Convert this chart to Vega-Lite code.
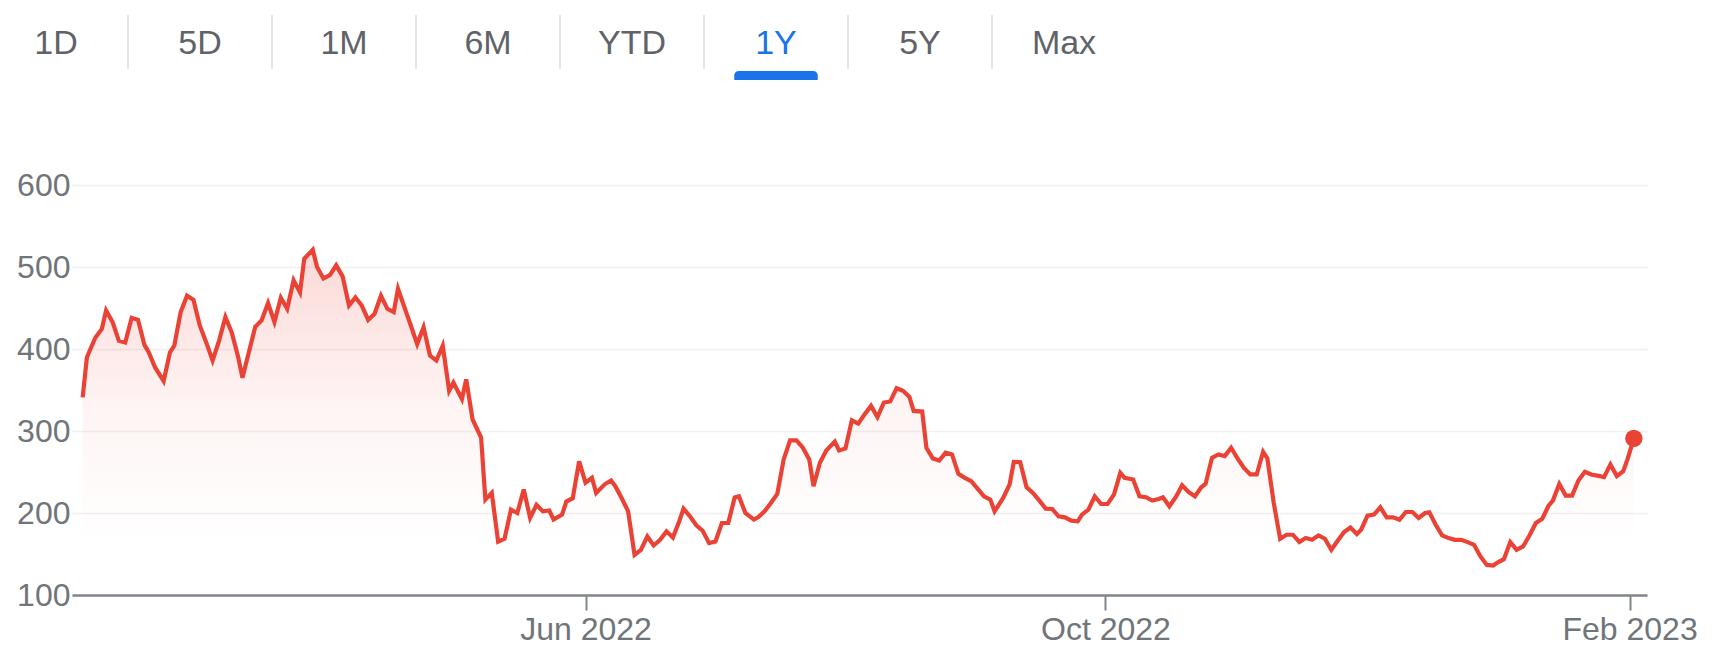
{
"$schema": "https://vega.github.io/schema/vega-lite/v6.json",
"padding": {"left": 16, "top": 0, "right": 0, "bottom": 0},
"spacing": 89,
"config": {"view": {"stroke": null}, "font": "Liberation Sans"},
"vconcat": [
{
"width": 1160, "height": 80,
"data": {"values": [{"label":"1D"},{"label":"5D"},{"label":"1M"},{"label":"6M"},{"label":"YTD"},{"label":"1Y"},{"label":"5Y"},{"label":"Max"}]},
"encoding": {"x": {"field": "label", "type": "nominal", "sort": null, "scale": {"type": "band", "domain": ["1D","5D","1M","6M","YTD","1Y","5Y","Max"], "range": [-88, 1064], "paddingInner": 0, "paddingOuter": 0}, "axis": null}},
"layer": [
{"transform": [{"filter": "datum.label !== '1D'"}], "mark": {"type": "rule", "color": "#dadce0", "strokeWidth": 1.5}, "encoding": {"x": {"field": "label", "type": "nominal", "bandPosition": 0}, "y": {"value": 15}, "y2": {"value": 69}}},
{"mark": {"type": "text", "fontSize": 34, "baseline": "middle", "align": "center", "font": "Liberation Sans"}, "encoding": {"text": {"field": "label"}, "y": {"value": 44}, "color": {"condition": {"test": "datum.label === '1Y'", "value": "#1a73e8"}, "value": "#5f6368"}}},
{"transform": [{"filter": "datum.label === '1Y'"}], "mark": {"type": "bar", "color": "#1a73e8", "width": {"band": 0.58}, "cornerRadiusTopLeft": 5, "cornerRadiusTopRight": 5}, "encoding": {"y": {"value": 71}, "y2": {"value": 80}}}
]
},
{
"width": 1575, "height": 410,
"data": {"values": [
{"date":"2022-02-03T00:00","price":341},{"date":"2022-02-04T00:00","price":390},{"date":"2022-02-06T00:00","price":414},{"date":"2022-02-07T12:00","price":424.5},{"date":"2022-02-08T12:00","price":447},{"date":"2022-02-10T00:00","price":433},{"date":"2022-02-11T12:00","price":410},{"date":"2022-02-13T00:00","price":408},{"date":"2022-02-14T12:00","price":438},{"date":"2022-02-16T00:00","price":435.5},{"date":"2022-02-17T12:00","price":405},{"date":"2022-02-18T12:00","price":396},{"date":"2022-02-20T00:00","price":377.5},{"date":"2022-02-22T00:00","price":361},{"date":"2022-02-23T12:00","price":396},{"date":"2022-02-24T12:00","price":404},{"date":"2022-02-26T00:00","price":445},{"date":"2022-02-27T12:00","price":465},{"date":"2022-03-01T00:00","price":460},{"date":"2022-03-02T12:00","price":428.5},{"date":"2022-03-04T00:00","price":408},{"date":"2022-03-05T12:00","price":386},{"date":"2022-03-07T00:00","price":410},{"date":"2022-03-08T12:00","price":439},{"date":"2022-03-10T00:00","price":420},{"date":"2022-03-11T12:00","price":390},{"date":"2022-03-12T12:00","price":365},{"date":"2022-03-14T00:00","price":396},{"date":"2022-03-15T12:00","price":427},{"date":"2022-03-17T00:00","price":435},{"date":"2022-03-18T12:00","price":456},{"date":"2022-03-20T00:00","price":433},{"date":"2022-03-21T12:00","price":462.5},{"date":"2022-03-23T00:00","price":449},{"date":"2022-03-24T12:00","price":483.7},{"date":"2022-03-26T00:00","price":469},{"date":"2022-03-27T00:00","price":510},{"date":"2022-03-29T00:00","price":521},{"date":"2022-03-30T00:00","price":500},{"date":"2022-03-31T12:00","price":486},{"date":"2022-04-02T00:00","price":490},{"date":"2022-04-03T12:00","price":502},{"date":"2022-04-05T00:00","price":488.6},{"date":"2022-04-06T12:00","price":453},{"date":"2022-04-08T00:00","price":463},{"date":"2022-04-09T12:00","price":453},{"date":"2022-04-11T00:00","price":435.5},{"date":"2022-04-12T12:00","price":443},{"date":"2022-04-14T00:00","price":465},{"date":"2022-04-15T12:00","price":449},{"date":"2022-04-17T00:00","price":445},{"date":"2022-04-18T00:00","price":473.5},{"date":"2022-04-19T12:00","price":451},{"date":"2022-04-21T00:00","price":428.6},{"date":"2022-04-22T12:00","price":406},{"date":"2022-04-24T00:00","price":426.5},{"date":"2022-04-25T12:00","price":392},{"date":"2022-04-27T00:00","price":386},{"date":"2022-04-28T12:00","price":404},{"date":"2022-04-30T00:00","price":349},{"date":"2022-05-01T00:00","price":359},{"date":"2022-05-03T00:00","price":339},{"date":"2022-05-04T00:00","price":363},{"date":"2022-05-05T12:00","price":314},{"date":"2022-05-07T12:00","price":292},{"date":"2022-05-08T12:00","price":216.3},{"date":"2022-05-10T00:00","price":224.5},{"date":"2022-05-11T12:00","price":165},{"date":"2022-05-13T00:00","price":168.6},{"date":"2022-05-14T12:00","price":204},{"date":"2022-05-16T00:00","price":200},{"date":"2022-05-17T12:00","price":228.6},{"date":"2022-05-19T00:00","price":194},{"date":"2022-05-20T12:00","price":210},{"date":"2022-05-22T00:00","price":202},{"date":"2022-05-23T12:00","price":203},{"date":"2022-05-24T12:00","price":192},{"date":"2022-05-26T12:00","price":198},{"date":"2022-05-27T12:00","price":214},{"date":"2022-05-29T00:00","price":218},{"date":"2022-05-30T12:00","price":263},{"date":"2022-06-01T00:00","price":237},{"date":"2022-06-02T12:00","price":243},{"date":"2022-06-03T12:00","price":224.5},{"date":"2022-06-05T12:00","price":235},{"date":"2022-06-07T00:00","price":239.6},{"date":"2022-06-08T00:00","price":232.7},{"date":"2022-06-09T12:00","price":218},{"date":"2022-06-11T00:00","price":202},{"date":"2022-06-12T12:00","price":149},{"date":"2022-06-14T00:00","price":155},{"date":"2022-06-15T12:00","price":171.4},{"date":"2022-06-17T00:00","price":160.4},{"date":"2022-06-18T12:00","price":167.3},{"date":"2022-06-20T00:00","price":177.6},{"date":"2022-06-21T12:00","price":170},{"date":"2022-06-23T00:00","price":190},{"date":"2022-06-24T00:00","price":205.3},{"date":"2022-06-25T12:00","price":196},{"date":"2022-06-27T00:00","price":185},{"date":"2022-06-28T12:00","price":178.4},{"date":"2022-06-30T00:00","price":163.3},{"date":"2022-07-01T12:00","price":165.3},{"date":"2022-07-03T00:00","price":187.8},{"date":"2022-07-04T12:00","price":187.8},{"date":"2022-07-06T00:00","price":219},{"date":"2022-07-07T00:00","price":220.4},{"date":"2022-07-08T12:00","price":200},{"date":"2022-07-10T12:00","price":192},{"date":"2022-07-11T12:00","price":194.7},{"date":"2022-07-13T00:00","price":202},{"date":"2022-07-14T12:00","price":212.2},{"date":"2022-07-16T00:00","price":223.3},{"date":"2022-07-17T12:00","price":265.3},{"date":"2022-07-19T00:00","price":288.6},{"date":"2022-07-20T12:00","price":288.6},{"date":"2022-07-22T00:00","price":279.6},{"date":"2022-07-23T12:00","price":265.3},{"date":"2022-07-24T12:00","price":232.7},{"date":"2022-07-26T00:00","price":261.2},{"date":"2022-07-27T12:00","price":276.3},{"date":"2022-07-29T12:00","price":287},{"date":"2022-07-30T12:00","price":276.3},{"date":"2022-08-01T00:00","price":278.8},{"date":"2022-08-02T12:00","price":313},{"date":"2022-08-04T00:00","price":309},{"date":"2022-08-05T12:00","price":320.4},{"date":"2022-08-07T00:00","price":330.6},{"date":"2022-08-08T12:00","price":317},{"date":"2022-08-10T00:00","price":334.7},{"date":"2022-08-11T12:00","price":336},{"date":"2022-08-13T00:00","price":352.2},{"date":"2022-08-14T12:00","price":349},{"date":"2022-08-16T00:00","price":341.6},{"date":"2022-08-17T00:00","price":324.5},{"date":"2022-08-19T00:00","price":323.7},{"date":"2022-08-20T00:00","price":279.6},{"date":"2022-08-21T12:00","price":266.5},{"date":"2022-08-23T00:00","price":264},{"date":"2022-08-24T12:00","price":273.5},{"date":"2022-08-26T00:00","price":271.4},{"date":"2022-08-27T12:00","price":247.8},{"date":"2022-08-29T00:00","price":242.9},{"date":"2022-08-30T12:00","price":238.8},{"date":"2022-09-01T00:00","price":229.8},{"date":"2022-09-02T12:00","price":220.4},{"date":"2022-09-04T00:00","price":216.3},{"date":"2022-09-05T00:00","price":202},{"date":"2022-09-07T00:00","price":218.4},{"date":"2022-09-08T12:00","price":234.7},{"date":"2022-09-09T12:00","price":262.4},{"date":"2022-09-11T00:00","price":262},{"date":"2022-09-12T12:00","price":231.4},{"date":"2022-09-14T00:00","price":224.5},{"date":"2022-09-15T12:00","price":215.1},{"date":"2022-09-17T00:00","price":205.3},{"date":"2022-09-18T12:00","price":204.9},{"date":"2022-09-20T00:00","price":196},{"date":"2022-09-21T12:00","price":194.7},{"date":"2022-09-23T00:00","price":190.6},{"date":"2022-09-24T12:00","price":189.8},{"date":"2022-09-25T12:00","price":198},{"date":"2022-09-27T00:00","price":204},{"date":"2022-09-28T12:00","price":220.4},{"date":"2022-09-30T00:00","price":211},{"date":"2022-10-01T12:00","price":211},{"date":"2022-10-03T00:00","price":222.4},{"date":"2022-10-04T12:00","price":249},{"date":"2022-10-05T12:00","price":242.9},{"date":"2022-10-07T12:00","price":240.8},{"date":"2022-10-09T00:00","price":220.4},{"date":"2022-10-10T12:00","price":219.2},{"date":"2022-10-12T00:00","price":215.1},{"date":"2022-10-13T12:00","price":217.1},{"date":"2022-10-14T12:00","price":219.2},{"date":"2022-10-16T00:00","price":208.2},{"date":"2022-10-17T12:00","price":219.2},{"date":"2022-10-19T00:00","price":233.9},{"date":"2022-10-20T12:00","price":225.7},{"date":"2022-10-22T00:00","price":220.4},{"date":"2022-10-23T12:00","price":231.4},{"date":"2022-10-24T12:00","price":235.5},{"date":"2022-10-26T00:00","price":267.3},{"date":"2022-10-27T12:00","price":271.4},{"date":"2022-10-29T00:00","price":269.4},{"date":"2022-10-30T12:00","price":279.6},{"date":"2022-11-01T00:00","price":266.5},{"date":"2022-11-02T12:00","price":255},{"date":"2022-11-04T00:00","price":247},{"date":"2022-11-05T12:00","price":247},{"date":"2022-11-07T00:00","price":274.7},{"date":"2022-11-08T00:00","price":266.5},{"date":"2022-11-09T12:00","price":212.2},{"date":"2022-11-11T00:00","price":168.6},{"date":"2022-11-12T12:00","price":173.5},{"date":"2022-11-14T00:00","price":173.5},{"date":"2022-11-15T12:00","price":164.5},{"date":"2022-11-17T00:00","price":169.4},{"date":"2022-11-18T12:00","price":167.3},{"date":"2022-11-20T00:00","price":172.7},{"date":"2022-11-21T12:00","price":168.6},{"date":"2022-11-23T00:00","price":155.1},{"date":"2022-11-24T12:00","price":166.1},{"date":"2022-11-26T00:00","price":176.7},{"date":"2022-11-27T12:00","price":182.4},{"date":"2022-11-29T00:00","price":174.3},{"date":"2022-11-30T00:00","price":179.6},{"date":"2022-12-01T12:00","price":196.7},{"date":"2022-12-03T00:00","price":198},{"date":"2022-12-04T12:00","price":207},{"date":"2022-12-06T00:00","price":194.7},{"date":"2022-12-07T12:00","price":194.7},{"date":"2022-12-09T00:00","price":191.8},{"date":"2022-12-10T12:00","price":201.2},{"date":"2022-12-12T00:00","price":201.2},{"date":"2022-12-13T12:00","price":193.9},{"date":"2022-12-15T00:00","price":200},{"date":"2022-12-16T00:00","price":200.8},{"date":"2022-12-17T12:00","price":185.7},{"date":"2022-12-19T00:00","price":172.7},{"date":"2022-12-20T12:00","price":169.4},{"date":"2022-12-22T00:00","price":167.3},{"date":"2022-12-23T12:00","price":167.3},{"date":"2022-12-25T00:00","price":164.5},{"date":"2022-12-26T12:00","price":161.2},{"date":"2022-12-28T00:00","price":147},{"date":"2022-12-29T12:00","price":136.7},{"date":"2022-12-31T00:00","price":136},{"date":"2023-01-01T00:00","price":139.6},{"date":"2023-01-02T12:00","price":143.7},{"date":"2023-01-04T00:00","price":164.5},{"date":"2023-01-05T12:00","price":155.1},{"date":"2023-01-07T00:00","price":159.2},{"date":"2023-01-08T12:00","price":172.5},{"date":"2023-01-10T00:00","price":187.8},{"date":"2023-01-11T12:00","price":193},{"date":"2023-01-13T00:00","price":209},{"date":"2023-01-14T00:00","price":215.1},{"date":"2023-01-15T12:00","price":235.5},{"date":"2023-01-17T00:00","price":221.2},{"date":"2023-01-18T12:00","price":221.2},{"date":"2023-01-20T00:00","price":239.6},{"date":"2023-01-21T12:00","price":250.2},{"date":"2023-01-23T00:00","price":247},{"date":"2023-01-25T00:00","price":245},{"date":"2023-01-26T00:00","price":243.7},{"date":"2023-01-27T12:00","price":259.2},{"date":"2023-01-29T00:00","price":245},{"date":"2023-01-30T12:00","price":251},{"date":"2023-01-31T12:00","price":265.3},{"date":"2023-02-02T00:00","price":291}
]},
"encoding": {
"x": {"field": "date", "type": "temporal",
 "scale": {"domain": [{"year": 2022, "month": 1, "date": 31, "hours": 12}, {"year": 2023, "month": 2, "date": 5, "hours": 2}]},
 "axis": {"title": null, "grid": false, "values": [{"year": 2022, "month": 6, "date": 1}, {"year": 2022, "month": 10, "date": 1}, {"year": 2023, "month": 2, "date": 1}], "format": "%b %Y", "domainColor": "#80868b", "domainWidth": 2.5, "tickColor": "#80868b", "tickWidth": 2, "tickSize": 15, "labelFontSize": 32, "labelColor": "#70757a", "labelPadding": 4, "labelFont": "Liberation Sans", "labelFlush": false, "labelOverlap": false, "labelBound": false}},
"y": {"field": "price", "type": "quantitative",
 "scale": {"domain": [100, 600], "nice": false, "zero": false},
 "axis": {"title": null, "values": [100, 200, 300, 400, 500, 600], "domain": false, "ticks": false, "grid": true, "gridColor": "#f0f0f0", "gridWidth": 1.5, "labelFontSize": 32, "labelColor": "#70757a", "labelPadding": 2, "labelFont": "Liberation Sans"}}
},
"layer": [
{"mark": {"type": "area", "color": {"gradient": "linear", "x1": 0, "y1": 0, "x2": 0, "y2": 1, "stops": [{"offset": 0, "color": "rgba(234,67,53,0.2)"}, {"offset": 0.45, "color": "rgba(234,67,53,0.06)"}, {"offset": 0.85, "color": "rgba(234,67,53,0)"}]}},
 "encoding": {"y2": {"datum": 100}}},
{"mark": {"type": "line", "color": "#ea4335", "strokeWidth": 4.2}},
{"transform": [{"window": [{"op": "row_number", "as": "rk"}], "sort": [{"field": "date", "order": "descending"}]}, {"filter": "datum.rk === 1"}],
 "mark": {"type": "circle", "color": "#ea4335", "size": 300, "opacity": 1}}
]
}
]
}
